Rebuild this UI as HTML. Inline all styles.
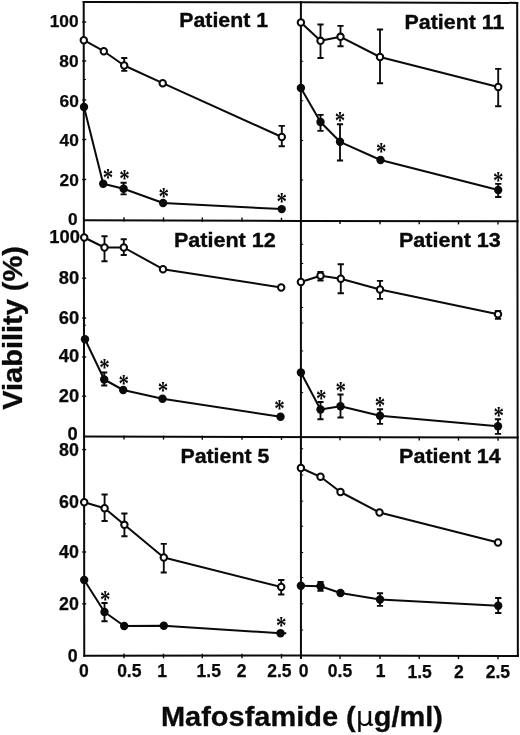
<!DOCTYPE html>
<html lang="en"><head><meta charset="utf-8"><title>Viability vs Mafosfamide</title>
<style>
html,body{margin:0;padding:0;background:#fff;}
svg{display:block;}
text{font-family:"Liberation Sans",Arial,Helvetica,sans-serif;font-weight:bold;fill:#0a0a0a;}
.tk{font-size:17.5px;stroke:#0a0a0a;stroke-width:0.25;}
.pt{font-size:20px;stroke:#0a0a0a;stroke-width:0.35;}
.ax{font-size:27.5px;stroke:#0a0a0a;stroke-width:0.3;}
.st{font-family:"Liberation Serif","Times New Roman",serif;font-weight:bold;font-size:21px;text-anchor:middle;}
.ln{stroke:#0a0a0a;stroke-width:2.00;fill:none;stroke-linejoin:round;}
.fr{stroke:#0a0a0a;stroke-width:2.00;fill:none;stroke-linecap:square;}
.tc{stroke:#0a0a0a;stroke-width:1.4;fill:none;}
.eb{stroke:#0a0a0a;stroke-width:1.85;fill:none;}
.oc{stroke:#0a0a0a;stroke-width:2.05;fill:#fff;}
.fc{fill:#0a0a0a;stroke:none;}
</style></head><body>
<svg width="520" height="735" viewBox="0 0 520 735">
<rect x="0" y="0" width="520" height="735" fill="#fff"/>
<g class="fr">
<path d="M83.7 1.9 L300.9 2.2 L517.2 2.9"/>
<path d="M83.7 1.9 L84.25 655.8"/>
<path d="M517.2 2.9 L517.85 656.1"/>
<path d="M300.9 2.2 L300.95 658"/>
<path d="M84 220.2 L300.9 220.9 L517.5 221.3"/>
<path d="M84.1 436.5 L517.7 437.5"/>
<path d="M84.25 655.8 L300.9 655.5 L517.85 656.1"/>
</g>
<g class="tc">
<path d="M124.0 217.3 V221.5"/>
<path d="M163.5 217.4 V221.6"/>
<path d="M202.3 217.5 V221.7"/>
<path d="M242.0 217.6 V221.8"/>
<path d="M281.5 217.7 V221.9"/>
<path d="M340.0 220.1 V224.1"/>
<path d="M380.0 220.2 V224.2"/>
<path d="M419.2 220.3 V224.3"/>
<path d="M458.5 220.4 V224.4"/>
<path d="M498.0 220.5 V224.5"/>
<path d="M124.0 435.6 V439.5"/>
<path d="M163.5 435.7 V439.6"/>
<path d="M202.3 435.8 V439.7"/>
<path d="M242.0 435.9 V439.8"/>
<path d="M281.5 436.0 V439.9"/>
<path d="M340.0 436.3 V440.3"/>
<path d="M380.0 436.4 V440.4"/>
<path d="M419.2 436.5 V440.5"/>
<path d="M458.5 436.6 V440.6"/>
<path d="M498.0 436.7 V440.7"/>
<path d="M124.0 653.6 V658.2"/>
<path d="M163.5 653.7 V658.3"/>
<path d="M202.3 653.7 V658.3"/>
<path d="M242.0 653.7 V658.3"/>
<path d="M281.5 653.8 V658.4"/>
<path d="M340.0 655.0 V659.0"/>
<path d="M380.0 655.1 V659.1"/>
<path d="M419.2 655.1 V659.1"/>
<path d="M458.5 655.1 V659.1"/>
<path d="M498.0 655.2 V659.2"/>
<path d="M82.2 22.0 H86.2"/>
<path d="M82.2 61.0 H86.2"/>
<path d="M82.2 100.0 H86.2"/>
<path d="M82.2 139.5 H86.2"/>
<path d="M82.2 179.5 H86.2"/>
<path d="M82.2 237.5 H86.2"/>
<path d="M82.2 278.2 H86.2"/>
<path d="M82.2 318.0 H86.2"/>
<path d="M82.2 357.0 H86.2"/>
<path d="M82.2 396.2 H86.2"/>
<path d="M82.2 449.6 H86.2"/>
<path d="M82.2 502.0 H86.2"/>
<path d="M82.2 552.0 H86.2"/>
<path d="M82.2 603.8 H86.2"/>
<path d="M84 79.5 H86" stroke-width="1"/>
<path d="M84 325.2 H86" stroke-width="1"/>
<path d="M84 523.8 H86" stroke-width="1"/>
<path d="M300.9 448.8 H303.2" stroke-width="1"/>
<path d="M300.9 475.0 H303.2" stroke-width="1"/>
<path d="M300.9 501.2 H303.2" stroke-width="1"/>
<path d="M300.9 526.2 H303.2" stroke-width="1"/>
<path d="M300.9 552.5 H303.2" stroke-width="1"/>
<path d="M300.9 577.5 H303.2" stroke-width="1"/>
<path d="M300.9 603.8 H303.2" stroke-width="1"/>
<path d="M300.9 630.0 H303.2" stroke-width="1"/>
<path d="M300.9 244.3 H303.2" stroke-width="1"/>
<path d="M300.9 263.5 H303.2" stroke-width="1"/>
<path d="M300.9 307.5 H303.2" stroke-width="1"/>
<path d="M300.9 323.0 H303.2" stroke-width="1"/>
<path d="M300.9 351.0 H303.2" stroke-width="1"/>
<path d="M300.9 392.6 H303.2" stroke-width="1"/>
<path d="M300.9 61.3 H303.2" stroke-width="1"/>
<path d="M300.9 100.8 H303.2" stroke-width="1"/>
<path d="M300.9 140.5 H303.2" stroke-width="1"/>
<path d="M300.9 180.0 H303.2" stroke-width="1"/>
</g>
<polyline class="ln" points="83.8,40.2 103.8,51.2 124.2,65.5 162.7,83.2 281.8,137.0"/>
<polyline class="ln" points="84.0,107.0 103.2,183.8 123.6,188.8 163.1,203.0 281.7,209.1"/>
<path class="eb" d="M124.2 58.0 V70.8 M121.2 58.0 H127.3 M121.2 70.8 H127.3"/>
<path class="eb" d="M281.8 125.8 V146.2 M278.6 125.8 H284.9 M278.6 146.2 H284.9"/>
<circle class="oc" cx="83.8" cy="40.2" r="3.2"/>
<circle class="oc" cx="103.8" cy="51.2" r="3.2"/>
<circle class="oc" cx="124.2" cy="65.5" r="3.2"/>
<circle class="oc" cx="162.7" cy="83.2" r="3.2"/>
<circle class="oc" cx="281.8" cy="137.0" r="3.2"/>
<path class="eb" d="M123.6 182.7 V194.4 M120.5 182.7 H126.7 M120.5 194.4 H126.7"/>
<circle class="fc" cx="84.0" cy="107.0" r="4.2"/>
<circle class="fc" cx="103.2" cy="183.8" r="4.2"/>
<circle class="fc" cx="123.6" cy="188.8" r="4.2"/>
<circle class="fc" cx="163.1" cy="203.0" r="4.2"/>
<circle class="fc" cx="281.7" cy="209.1" r="4.2"/>
<text class="st" transform="translate(107.9 173.5) scale(1 1.22)" x="0" y="9.85">*</text>
<text class="st" transform="translate(124.4 175.4) scale(1 1.22)" x="0" y="9.85">*</text>
<text class="st" transform="translate(163.8 192.5) scale(1 1.22)" x="0" y="9.85">*</text>
<text class="st" transform="translate(281.8 197.5) scale(1 1.22)" x="0" y="9.85">*</text>
<polyline class="ln" points="300.9,22.5 320.5,40.8 340.5,36.8 380.0,57.0 498.2,87.0"/>
<polyline class="ln" points="300.9,88.0 320.5,122.0 340.0,141.8 380.5,160.0 498.2,190.0"/>
<path class="eb" d="M320.5 24.5 V58.0 M317.4 24.5 H323.6 M317.4 58.0 H323.6"/>
<path class="eb" d="M340.5 25.8 V46.2 M337.4 25.8 H343.6 M337.4 46.2 H343.6"/>
<path class="eb" d="M380.0 29.5 V83.2 M376.9 29.5 H383.1 M376.9 83.2 H383.1"/>
<path class="eb" d="M498.2 68.8 V106.2 M495.1 68.8 H501.4 M495.1 106.2 H501.4"/>
<circle class="oc" cx="300.9" cy="22.5" r="3.2"/>
<circle class="oc" cx="320.5" cy="40.8" r="3.2"/>
<circle class="oc" cx="340.5" cy="36.8" r="3.2"/>
<circle class="oc" cx="380.0" cy="57.0" r="3.2"/>
<circle class="oc" cx="498.2" cy="87.0" r="3.2"/>
<path class="eb" d="M320.5 114.8 V130.8 M317.4 114.8 H323.6 M317.4 130.8 H323.6"/>
<path class="eb" d="M340.0 124.2 V160.5 M336.9 124.2 H343.1 M336.9 160.5 H343.1"/>
<path class="eb" d="M498.2 183.8 V197.0 M495.1 183.8 H501.4 M495.1 197.0 H501.4"/>
<circle class="fc" cx="300.9" cy="88.0" r="4.2"/>
<circle class="fc" cx="320.5" cy="122.0" r="4.2"/>
<circle class="fc" cx="340.0" cy="141.8" r="4.2"/>
<circle class="fc" cx="380.5" cy="160.0" r="4.2"/>
<circle class="fc" cx="498.2" cy="190.0" r="4.2"/>
<text class="st" transform="translate(340.0 117.0) scale(1 1.22)" x="0" y="9.85">*</text>
<text class="st" transform="translate(381.2 148.2) scale(1 1.22)" x="0" y="9.85">*</text>
<text class="st" transform="translate(498.2 176.7) scale(1 1.22)" x="0" y="9.85">*</text>
<polyline class="ln" points="84.2,237.5 104.5,247.5 123.8,247.5 163.0,269.2 281.2,287.5"/>
<polyline class="ln" points="85.0,339.2 104.2,379.5 123.2,390.0 162.5,398.8 280.5,416.8"/>
<path class="eb" d="M104.5 236.2 V261.2 M101.4 236.2 H107.6 M101.4 261.2 H107.6"/>
<path class="eb" d="M123.8 239.2 V255.0 M120.7 239.2 H126.8 M120.7 255.0 H126.8"/>
<circle class="oc" cx="84.2" cy="237.5" r="3.2"/>
<circle class="oc" cx="104.5" cy="247.5" r="3.2"/>
<circle class="oc" cx="123.8" cy="247.5" r="3.2"/>
<circle class="oc" cx="163.0" cy="269.2" r="3.2"/>
<circle class="oc" cx="281.2" cy="287.5" r="3.2"/>
<path class="eb" d="M104.2 372.5 V385.5 M101.2 372.5 H107.3 M101.2 385.5 H107.3"/>
<circle class="fc" cx="85.0" cy="339.2" r="4.2"/>
<circle class="fc" cx="104.2" cy="379.5" r="4.2"/>
<circle class="fc" cx="123.2" cy="390.0" r="4.2"/>
<circle class="fc" cx="162.5" cy="398.8" r="4.2"/>
<circle class="fc" cx="280.5" cy="416.8" r="4.2"/>
<text class="st" transform="translate(104.5 363.5) scale(1 1.22)" x="0" y="9.85">*</text>
<text class="st" transform="translate(123.8 380.0) scale(1 1.22)" x="0" y="9.85">*</text>
<text class="st" transform="translate(163.0 387.0) scale(1 1.22)" x="0" y="9.85">*</text>
<text class="st" transform="translate(279.5 405.0) scale(1 1.22)" x="0" y="9.85">*</text>
<polyline class="ln" points="300.9,282.0 320.5,275.8 340.8,278.8 380.0,289.5 498.0,314.2"/>
<polyline class="ln" points="300.9,372.5 320.5,409.5 340.5,406.2 380.0,415.8 498.0,426.2"/>
<path class="eb" d="M320.5 272.0 V280.5 M317.4 272.0 H323.6 M317.4 280.5 H323.6"/>
<path class="eb" d="M340.8 264.2 V293.2 M337.6 264.2 H343.9 M337.6 293.2 H343.9"/>
<path class="eb" d="M380.0 280.8 V298.8 M376.9 280.8 H383.1 M376.9 298.8 H383.1"/>
<path class="eb" d="M498.0 310.8 V318.8 M494.9 310.8 H501.1 M494.9 318.8 H501.1"/>
<circle class="oc" cx="300.9" cy="282.0" r="3.2"/>
<circle class="oc" cx="320.5" cy="275.8" r="3.2"/>
<circle class="oc" cx="340.8" cy="278.8" r="3.2"/>
<circle class="oc" cx="380.0" cy="289.5" r="3.2"/>
<circle class="oc" cx="498.0" cy="314.2" r="3.2"/>
<path class="eb" d="M320.5 402.0 V419.2 M317.4 402.0 H323.6 M317.4 419.2 H323.6"/>
<path class="eb" d="M340.5 394.5 V417.5 M337.4 394.5 H343.6 M337.4 417.5 H343.6"/>
<path class="eb" d="M380.0 409.2 V423.8 M376.9 409.2 H383.1 M376.9 423.8 H383.1"/>
<path class="eb" d="M498.0 419.2 V433.8 M494.9 419.2 H501.1 M494.9 433.8 H501.1"/>
<circle class="fc" cx="300.9" cy="372.5" r="4.2"/>
<circle class="fc" cx="320.5" cy="409.5" r="4.2"/>
<circle class="fc" cx="340.5" cy="406.2" r="4.2"/>
<circle class="fc" cx="380.0" cy="415.8" r="4.2"/>
<circle class="fc" cx="498.0" cy="426.2" r="4.2"/>
<text class="st" transform="translate(321.2 395.0) scale(1 1.22)" x="0" y="9.85">*</text>
<text class="st" transform="translate(340.8 387.0) scale(1 1.22)" x="0" y="9.85">*</text>
<text class="st" transform="translate(380.0 402.0) scale(1 1.22)" x="0" y="9.85">*</text>
<text class="st" transform="translate(498.8 411.8) scale(1 1.22)" x="0" y="9.85">*</text>
<polyline class="ln" points="84.2,502.3 104.6,508.2 124.4,524.8 163.8,557.5 281.2,587.0"/>
<polyline class="ln" points="84.2,580.0 104.5,612.0 124.2,626.0 163.8,625.8 280.5,633.2"/>
<path class="eb" d="M104.6 494.5 V521.0 M101.5 494.5 H107.7 M101.5 521.0 H107.7"/>
<path class="eb" d="M124.4 513.5 V536.2 M121.3 513.5 H127.5 M121.3 536.2 H127.5"/>
<path class="eb" d="M163.8 543.8 V572.5 M160.7 543.8 H166.8 M160.7 572.5 H166.8"/>
<path class="eb" d="M281.2 580.0 V594.5 M278.1 580.0 H284.4 M278.1 594.5 H284.4"/>
<circle class="oc" cx="84.2" cy="502.3" r="3.2"/>
<circle class="oc" cx="104.6" cy="508.2" r="3.2"/>
<circle class="oc" cx="124.4" cy="524.8" r="3.2"/>
<circle class="oc" cx="163.8" cy="557.5" r="3.2"/>
<circle class="oc" cx="281.2" cy="587.0" r="3.2"/>
<path class="eb" d="M104.5 603.0 V621.2 M101.4 603.0 H107.6 M101.4 621.2 H107.6"/>
<circle class="fc" cx="84.2" cy="580.0" r="4.2"/>
<circle class="fc" cx="104.5" cy="612.0" r="4.2"/>
<circle class="fc" cx="124.2" cy="626.0" r="4.2"/>
<circle class="fc" cx="163.8" cy="625.8" r="4.2"/>
<circle class="fc" cx="280.5" cy="633.2" r="4.2"/>
<text class="st" transform="translate(105.3 596.1) scale(1 1.22)" x="0" y="9.85">*</text>
<text class="st" transform="translate(281.2 622.0) scale(1 1.22)" x="0" y="9.85">*</text>
<polyline class="ln" points="300.9,468.0 320.5,476.8 340.5,492.0 379.5,512.5 498.0,542.5"/>
<polyline class="ln" points="300.9,585.8 320.5,586.2 340.5,593.0 380.0,599.5 498.2,605.8"/>
<circle class="oc" cx="300.9" cy="468.0" r="3.2"/>
<circle class="oc" cx="320.5" cy="476.8" r="3.2"/>
<circle class="oc" cx="340.5" cy="492.0" r="3.2"/>
<circle class="oc" cx="379.5" cy="512.5" r="3.2"/>
<circle class="oc" cx="498.0" cy="542.5" r="3.2"/>
<path class="eb" d="M320.5 582.0 V590.8 M317.4 582.0 H323.6 M317.4 590.8 H323.6"/>
<path class="eb" d="M380.0 593.2 V605.8 M376.9 593.2 H383.1 M376.9 605.8 H383.1"/>
<path class="eb" d="M498.2 598.0 V613.0 M495.1 598.0 H501.4 M495.1 613.0 H501.4"/>
<circle class="fc" cx="300.9" cy="585.8" r="4.2"/>
<circle class="fc" cx="320.5" cy="586.2" r="4.2"/>
<circle class="fc" cx="340.5" cy="593.0" r="4.2"/>
<circle class="fc" cx="380.0" cy="599.5" r="4.2"/>
<circle class="fc" cx="498.2" cy="605.8" r="4.2"/>
<path class="ln" d="M280.5 633.25 H286.3"/>
<text class="tk" style="font-size:17px" x="49.7" y="27.3" textLength="28.9" lengthAdjust="spacingAndGlyphs">100</text>
<text class="tk" style="font-size:17px" x="59.3" y="67.4" textLength="19.3" lengthAdjust="spacingAndGlyphs">80</text>
<text class="tk" style="font-size:17px" x="59.5" y="107.0" textLength="19.3" lengthAdjust="spacingAndGlyphs">60</text>
<text class="tk" style="font-size:17px" x="59.5" y="145.7" textLength="19.3" lengthAdjust="spacingAndGlyphs">40</text>
<text class="tk" style="font-size:17px" x="59.5" y="185.9" textLength="19.3" lengthAdjust="spacingAndGlyphs">20</text>
<text class="tk" style="font-size:17px" x="68.1" y="224.9" textLength="9.6" lengthAdjust="spacingAndGlyphs">0</text>
<text class="tk" style="font-size:17.5px" x="49.3" y="243.0" textLength="30.6" lengthAdjust="spacingAndGlyphs">100</text>
<text class="tk" style="font-size:17.5px" x="58.8" y="283.7" textLength="20.4" lengthAdjust="spacingAndGlyphs">80</text>
<text class="tk" style="font-size:17.5px" x="58.8" y="323.5" textLength="20.4" lengthAdjust="spacingAndGlyphs">60</text>
<text class="tk" style="font-size:17.5px" x="58.8" y="362.3" textLength="20.4" lengthAdjust="spacingAndGlyphs">40</text>
<text class="tk" style="font-size:17.5px" x="58.8" y="402.2" textLength="20.4" lengthAdjust="spacingAndGlyphs">20</text>
<text class="tk" style="font-size:17.5px" x="67.6" y="439.5" textLength="10.2" lengthAdjust="spacingAndGlyphs">0</text>
<text class="tk" style="font-size:17.5px" x="59.0" y="456.1" textLength="19.8" lengthAdjust="spacingAndGlyphs">80</text>
<text class="tk" style="font-size:17.5px" x="59.0" y="508.2" textLength="19.8" lengthAdjust="spacingAndGlyphs">60</text>
<text class="tk" style="font-size:17.5px" x="59.0" y="558.2" textLength="19.8" lengthAdjust="spacingAndGlyphs">40</text>
<text class="tk" style="font-size:17.5px" x="59.0" y="609.8" textLength="19.8" lengthAdjust="spacingAndGlyphs">20</text>
<text class="tk" style="font-size:17.5px" x="67.8" y="662.0" textLength="9.9" lengthAdjust="spacingAndGlyphs">0</text>
<text class="tk" text-anchor="middle" x="83.8" y="676.9">0</text>
<text class="tk" text-anchor="middle" x="129.3" y="676.9">0.5</text>
<text class="tk" text-anchor="middle" x="162.2" y="676.9">1</text>
<text class="tk" text-anchor="middle" x="208.7" y="677.0">1.5</text>
<text class="tk" text-anchor="middle" x="241.5" y="677.0">2</text>
<text class="tk" text-anchor="middle" x="279.4" y="677.2">2.5</text>
<text class="tk" text-anchor="middle" x="303.5" y="677.4">0</text>
<text class="tk" text-anchor="middle" x="340.0" y="677.4">0.5</text>
<text class="tk" text-anchor="middle" x="380.6" y="677.4">1</text>
<text class="tk" text-anchor="middle" x="419.6" y="677.5">1.5</text>
<text class="tk" text-anchor="middle" x="458.9" y="677.5">2</text>
<text class="tk" text-anchor="middle" x="497.9" y="677.6">2.5</text>
<text class="pt" x="179.3" y="27.2" textLength="88.8" lengthAdjust="spacingAndGlyphs">Patient 1</text>
<text class="pt" x="404.6" y="28.5" textLength="99.8" lengthAdjust="spacingAndGlyphs">Patient 11</text>
<text class="pt" x="173.9" y="247.0" textLength="101.9" lengthAdjust="spacingAndGlyphs">Patient 12</text>
<text class="pt" x="399.0" y="247.3" textLength="101.8" lengthAdjust="spacingAndGlyphs">Patient 13</text>
<text class="pt" x="180.4" y="462.5" textLength="89.0" lengthAdjust="spacingAndGlyphs">Patient 5</text>
<text class="pt" x="399.1" y="463.2" textLength="101.6" lengthAdjust="spacingAndGlyphs">Patient 14</text>
<text class="ax" x="161" y="726.3" textLength="282" lengthAdjust="spacingAndGlyphs">Mafosfamide (<tspan font-weight="normal" font-family="DejaVu Sans,sans-serif" stroke="none" font-size="27">μ</tspan>g/ml)</text>
<text class="ax" transform="translate(22.4 409.7) rotate(-90)" textLength="163.5" lengthAdjust="spacingAndGlyphs">Viability (%)</text>
</svg>
</body></html>
